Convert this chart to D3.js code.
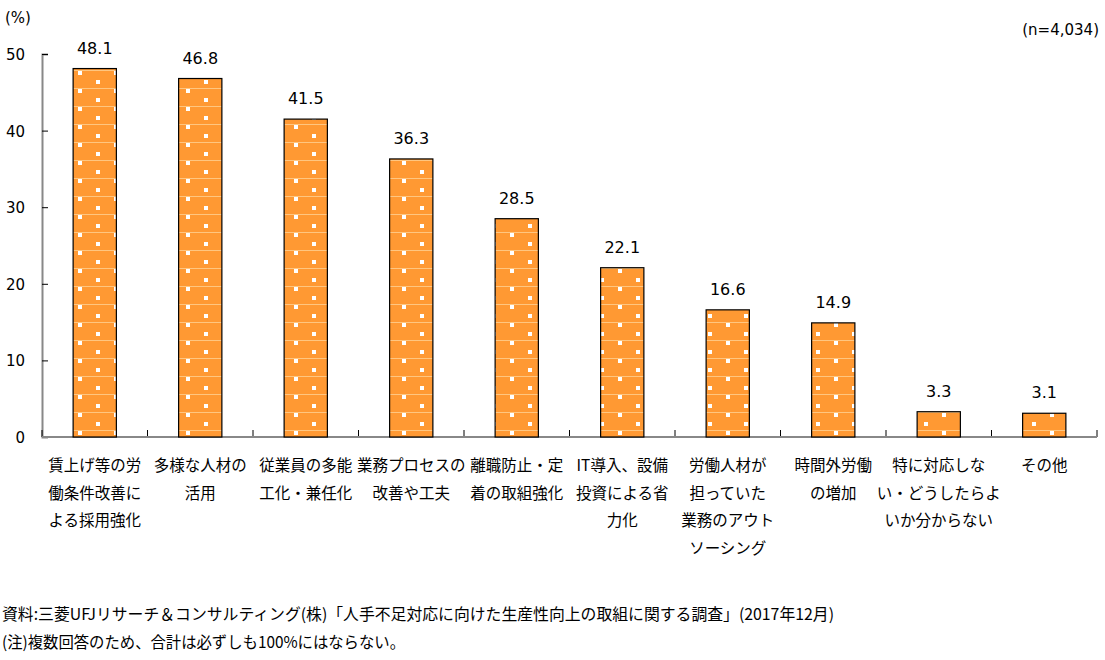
<!DOCTYPE html>
<html>
<head>
<meta charset="utf-8">
<script src="https://cdn.jsdelivr.net/npm/d3@7"></script>
<style>
  body { margin: 0; background: #fff; }
  svg { display: block; }
</style>
</head>
<body>
<div id="chart"></div>
<script>
// Data
var categories = [
    ["賃上げ等の労", "働条件改善に", "よる採用強化"],
    ["多様な人材の", "活用"],
    ["従業員の多能", "工化・兼任化"],
    ["業務プロセスの", "改善や工夫"],
    ["離職防止・定", "着の取組強化"],
    ["IT導入、設備", "投資による省", "力化"],
    ["労働人材が", "担っていた", "業務のアウト", "ソーシング"],
    ["時間外労働", "の増加"],
    ["特に対応しな", "い・どうしたらよ", "いか分からない"],
    ["その他"]
];
var values = [48.1, 46.8, 41.5, 36.3, 28.5, 22.1, 16.6, 14.9, 3.3, 3.1];
var yTicks = [0, 10, 20, 30, 40, 50];

var W = 1105, H = 660;
var margin = {top: 54, left: 42, right: 1097, bottom: 437};

var svg = d3.select("#chart")
    .append("svg")
        .attr("width", W)
        .attr("height", H);

var numFont = "'DejaVu Sans', Verdana, sans-serif";
var jpFont = "'Noto Sans CJK JP', sans-serif";

// Pattern for bars
var defs = svg.append("defs");
var pat = defs.append("pattern")
    .attr("id", "dots")
    .attr("patternUnits", "userSpaceOnUse")
    .attr("x", 6).attr("y", 16)
    .attr("width", 36).attr("height", 18);
pat.append("rect").attr("width", 36).attr("height", 18).attr("fill", "#FF9933");
pat.append("rect").attr("x", 0).attr("y", 0).attr("width", 36).attr("height", 1).attr("fill", "#FFC680");
pat.append("rect").attr("x", 0).attr("y", 1).attr("width", 4).attr("height", 4).attr("fill", "#fff");
pat.append("rect").attr("x", 18).attr("y", 10).attr("width", 4).attr("height", 4).attr("fill", "#fff");

// Scales
var x = d3.scaleBand()
    .domain(d3.range(values.length))
    .range([margin.left, margin.right])
    .padding(0);

var y = d3.scaleLinear()
    .domain([0, 50])
    .range([margin.bottom, margin.top]);

var barW = x.bandwidth() * 0.41;

// Y axis
var yAxis = svg.append("g")
    .attr("transform", "translate(" + margin.left + ",0)")
    .call(d3.axisRight(y).tickValues(yTicks).tickSize(6).tickFormat(""));
yAxis.select(".domain").attr("stroke", "#888").attr("stroke-width", 2);
yAxis.selectAll(".tick line").attr("stroke", "#000");

svg.append("g")
    .selectAll("text")
    .data(yTicks)
    .enter().append("text")
    .attr("x", 25)
    .attr("y", d => y(d) + 6)
    .attr("text-anchor", "end")
    .style("font-family", numFont)
    .style("font-size", "15px")
    .attr("fill", "#000")
    .text(d => d);

// X axis
var xAxis = svg.append("g")
    .attr("transform", "translate(0," + margin.bottom + ")");
xAxis.selectAll("line")
    .data(d3.range(values.length + 1))
    .enter().append("line")
    .attr("x1", d => margin.left + d * x.step())
    .attr("x2", d => margin.left + d * x.step())
    .attr("y1", -7).attr("y2", 0)
    .attr("stroke", "#000");
xAxis.append("line")
    .attr("x1", margin.left).attr("x2", margin.right)
    .attr("y1", 0).attr("y2", 0)
    .attr("stroke", "#888")
    .attr("stroke-width", 2);

// Bars
svg.append("g")
    .selectAll("rect")
    .data(values)
    .enter().append("rect")
    .attr("x", (d, i) => x(i) + (x.bandwidth() - barW) / 2)
    .attr("y", d => y(d))
    .attr("width", barW)
    .attr("height", d => y(0) - y(d))
    .attr("fill", "url(#dots)")
    .attr("stroke", "#000")
    .attr("stroke-width", 1.2);

// Value labels
svg.append("g")
    .selectAll("text")
    .data(values)
    .enter().append("text")
    .attr("x", (d, i) => x(i) + x.bandwidth() / 2)
    .attr("y", d => y(d) - 15)
    .attr("text-anchor", "middle")
    .style("font-family", numFont)
    .style("font-size", "16px")
    .attr("fill", "#000")
    .text(d => d.toFixed(1));

// Category labels
var cat = svg.append("g")
    .selectAll("text")
    .data(categories)
    .enter().append("text")
    .attr("text-anchor", "middle")
    .style("font-family", jpFont)
    .style("font-size", "15.5px")
    .attr("fill", "#000");
cat.each(function(lines, i) {
    d3.select(this).selectAll("tspan")
        .data(lines)
        .enter().append("tspan")
        .attr("x", x(i) + x.bandwidth() / 2)
        .attr("y", (d, j) => 471 + j * 27.5)
        .text(d => d);
});

// Unit and sample size
svg.append("text")
    .attr("x", 5).attr("y", 23)
    .style("font-family", numFont)
    .style("font-size", "15px")
    .text("(%)");
svg.append("text")
    .attr("x", 1099).attr("y", 35)
    .attr("text-anchor", "end")
    .style("font-family", numFont)
    .style("font-size", "15px")
    .text("(n=4,034)");

// Footnotes
svg.append("text")
    .attr("x", 2).attr("y", 620)
    .attr("textLength", 832)
    .attr("lengthAdjust", "spacingAndGlyphs")
    .style("font-family", jpFont)
    .style("font-size", "16px")
    .text("資料:三菱UFJリサーチ＆コンサルティング(株)「人手不足対応に向けた生産性向上の取組に関する調査」(2017年12月)");
svg.append("text")
    .attr("x", 2).attr("y", 648)
    .attr("textLength", 403)
    .attr("lengthAdjust", "spacingAndGlyphs")
    .style("font-family", jpFont)
    .style("font-size", "16px")
    .text("(注)複数回答のため、合計は必ずしも100%にはならない。");
</script>
</body>
</html>
